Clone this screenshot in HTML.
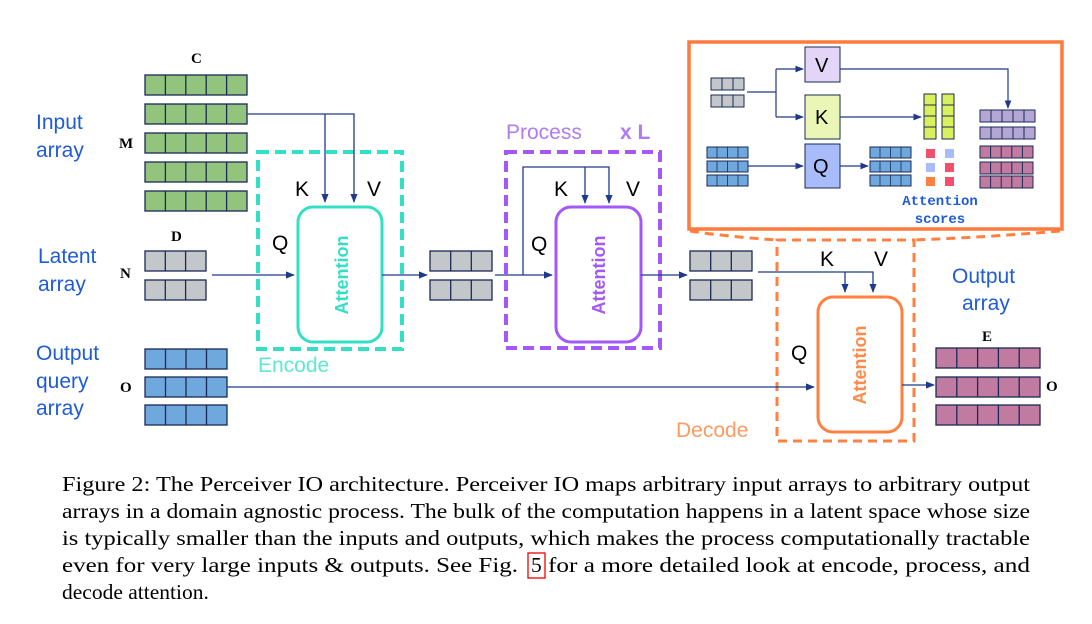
<!DOCTYPE html>
<html><head><meta charset="utf-8"><style>
html,body{margin:0;padding:0;background:#fff;}
svg{display:block}
.lb{font-family:"Liberation Sans","DejaVu Sans",sans-serif;}
.sf{font-family:"Liberation Serif",serif;}
</style></head><body>
<svg width="1092" height="624" viewBox="0 0 1092 624" xmlns="http://www.w3.org/2000/svg">
<defs>
<marker id="ah" viewBox="0 0 10 10" refX="9" refY="5" markerWidth="7" markerHeight="7" orient="auto"><path d="M0,1 L10,5 L0,9 z" fill="#1e3a8a"/></marker>
</defs>
<rect width="1092" height="624" fill="#fff"/>
<g class="lb" fill="#1f5bd6" font-size="21">
<text x="36" y="129">Input</text><text x="36" y="157">array</text>
<text x="38" y="263">Latent</text><text x="38" y="291">array</text>
<text x="36" y="360">Output</text><text x="36" y="388">query</text><text x="36" y="415">array</text>
<text x="952" y="283">Output</text><text x="962" y="310">array</text>
</g>
<g class="sf" font-weight="bold" font-size="15" fill="#000">
<text x="191" y="63">C</text><text x="119" y="148">M</text><text x="171" y="241">D</text><text x="120" y="278">N</text><text x="120" y="392">O</text><text x="982" y="341">E</text><text x="1046" y="391">O</text>
</g>
<g stroke="#1a2a55" stroke-width="1.3">
<g fill="#93c47d">
<rect x="145" y="75" width="102" height="20"/><rect x="145" y="104" width="102" height="20"/><rect x="145" y="133" width="102" height="20"/><rect x="145" y="162" width="102" height="20"/><rect x="145" y="191" width="102" height="20"/>
</g>
<path d="M165.4 75v20M185.8 75v20M206.2 75v20M226.6 75v20 M165.4 104v20M185.8 104v20M206.2 104v20M226.6 104v20 M165.4 133v20M185.8 133v20M206.2 133v20M226.6 133v20 M165.4 162v20M185.8 162v20M206.2 162v20M226.6 162v20 M165.4 191v20M185.8 191v20M206.2 191v20M226.6 191v20" fill="none"/>
<g fill="#c3c7c9">
<rect x="145" y="251" width="61" height="20"/><rect x="145" y="280" width="61" height="20"/>
<rect x="430" y="251" width="62" height="20"/><rect x="430" y="280" width="62" height="20"/>
<rect x="690" y="251" width="62" height="20"/><rect x="690" y="280" width="62" height="20"/>
</g>
<path d="M165.3 251v20M185.6 251v20M165.3 280v20M185.6 280v20 M450.7 251v20M471.3 251v20M450.7 280v20M471.3 280v20 M710.7 251v20M731.3 251v20M710.7 280v20M731.3 280v20" fill="none"/>
<g fill="#6fa8dc">
<rect x="145" y="349" width="82" height="20"/><rect x="145" y="377" width="82" height="20"/><rect x="145" y="405" width="82" height="20"/>
</g>
<path d="M165.5 349v20M186 349v20M206.5 349v20 M165.5 377v20M186 377v20M206.5 377v20 M165.5 405v20M186 405v20M206.5 405v20" fill="none"/>
<g fill="#c27ba0">
<rect x="936" y="348" width="104" height="20"/><rect x="936" y="377" width="104" height="20"/><rect x="936" y="405" width="104" height="20"/>
</g>
<path d="M956.8 348v20M977.6 348v20M998.4 348v20M1019.2 348v20 M956.8 377v20M977.6 377v20M998.4 377v20M1019.2 377v20 M956.8 405v20M977.6 405v20M998.4 405v20M1019.2 405v20" fill="none"/>
</g>
<!-- Encode -->
<rect x="258" y="152" width="144" height="197" fill="none" stroke="#33e0c6" stroke-width="4" stroke-dasharray="11,6"/>
<rect x="298" y="207" width="84" height="135" rx="15" fill="none" stroke="#33e0c6" stroke-width="3"/>
<text class="lb" x="0" y="0" transform="translate(348,275) rotate(-90)" text-anchor="middle" font-size="18" font-weight="bold" fill="#33e0c6">Attention</text>
<text class="lb" x="258" y="372" font-size="21" fill="#5ee8d0">Encode</text>
<!-- Process -->
<rect x="506" y="152" width="154" height="196" fill="none" stroke="#a259f7" stroke-width="4" stroke-dasharray="11,6"/>
<rect x="556" y="207" width="85" height="135" rx="15" fill="none" stroke="#a259f7" stroke-width="3"/>
<text class="lb" x="0" y="0" transform="translate(605,275) rotate(-90)" text-anchor="middle" font-size="18" font-weight="bold" fill="#a259f7">Attention</text>
<text class="lb" x="506" y="139" font-size="21" fill="#b07cf5">Process</text>
<text class="lb" x="620" y="139" font-size="21" font-weight="bold" fill="#b07cf5">x L</text>
<!-- Decode -->
<rect x="777" y="240" width="137" height="201" fill="none" stroke="#ff8040" stroke-width="3" stroke-dasharray="9,6"/>
<rect x="818" y="297" width="84" height="135" rx="15" fill="none" stroke="#ff8040" stroke-width="3"/>
<text class="lb" x="0" y="0" transform="translate(866,365) rotate(-90)" text-anchor="middle" font-size="18" font-weight="bold" fill="#ff8a4a">Attention</text>
<text class="lb" x="676" y="437" font-size="21" fill="#ff9a60">Decode</text>
<g class="lb" font-size="21" fill="#000">
<text x="295" y="196">K</text><text x="367" y="196">V</text><text x="272" y="250">Q</text>
<text x="554" y="196">K</text><text x="626" y="196">V</text><text x="531" y="251">Q</text>
<text x="820" y="266">K</text><text x="874" y="266">V</text><text x="791" y="360">Q</text>
</g>
<g stroke="#1e3a8a" stroke-width="1.3" fill="none">
<path d="M247 114 H354 V202" marker-end="url(#ah)"/>
<path d="M325 114 V202" marker-end="url(#ah)"/>
<path d="M212 275 H294" marker-end="url(#ah)"/>
<path d="M382 275 H427" marker-end="url(#ah)"/>
<path d="M495 275 H552" marker-end="url(#ah)"/>
<path d="M523 275 V167 H609 V203" marker-end="url(#ah)"/>
<path d="M585 167 V203" marker-end="url(#ah)"/>
<path d="M641 275 H687" marker-end="url(#ah)"/>
<path d="M758 272 H873 V292" marker-end="url(#ah)"/>
<path d="M845 272 V292" marker-end="url(#ah)"/>
<path d="M227 387 H814" marker-end="url(#ah)"/>
<path d="M902 385 H934" marker-end="url(#ah)"/>
</g>
<!-- inset -->
<path d="M690 231 Q730 237 777 240 M1060 231 Q990 237 914 240" fill="none" stroke="#ff8040" stroke-width="3" stroke-dasharray="9,6"/>
<rect x="689" y="42" width="373" height="187" fill="#fff" stroke="#ff7a3d" stroke-width="3.5"/>
<g stroke="#1a2a55" stroke-width="1">
<rect x="711" y="78" width="33" height="12" fill="#c3c7c9"/><rect x="711" y="95" width="33" height="12" fill="#c3c7c9"/>
<path d="M722 78v12M733 78v12M722 95v12M733 95v12"/>
<g fill="#6fa8dc">
<rect x="707" y="147" width="41" height="11"/><rect x="707" y="161" width="41" height="11"/><rect x="707" y="175" width="41" height="11"/>
<rect x="870" y="147" width="41" height="11"/><rect x="870" y="161" width="41" height="11"/><rect x="870" y="175" width="41" height="11"/>
</g>
<path d="M717 147v11M727.5 147v11M738 147v11 M717 161v11M727.5 161v11M738 161v11 M717 175v11M727.5 175v11M738 175v11 M880 147v11M890.5 147v11M901 147v11 M880 161v11M890.5 161v11M901 161v11 M880 175v11M890.5 175v11M901 175v11" stroke-width="0.8"/>
<g fill="#d9ef5c">
<rect x="924" y="94" width="12" height="45"/><rect x="942" y="94" width="12" height="45"/>
</g>
<path d="M924 105h12M924 116h12M924 127h12M942 105h12M942 116h12M942 127h12"/>
<rect x="980" y="110" width="55" height="12" fill="#b4a7d6"/><rect x="980" y="127" width="55" height="12" fill="#b4a7d6"/>
<path d="M991 110v12M1002 110v12M1013 110v12M1024 110v12 M991 127v12M1002 127v12M1013 127v12M1024 127v12"/>
<g fill="#c27ba0">
<rect x="980" y="146" width="53" height="12"/><rect x="980" y="162" width="53" height="12"/><rect x="980" y="176" width="53" height="12"/>
</g>
<path d="M990.6 146v12M1001.2 146v12M1011.8 146v12M1022.4 146v12 M990.6 162v12M1001.2 162v12M1011.8 162v12M1022.4 162v12 M990.6 176v12M1001.2 176v12M1011.8 176v12M1022.4 176v12"/>
<rect x="805" y="47" width="35" height="35" fill="#e2d5f8"/>
<rect x="805" y="95" width="35" height="44" fill="#e9f6b5"/>
<rect x="805" y="144" width="35" height="44" fill="#a8bcfa"/>
</g>
<g fill="none" stroke="#1e3a8a" stroke-width="1.2">
<path d="M747 92 H776 M776 69 V117"/>
<path d="M776 69 H803" marker-end="url(#ah)"/><path d="M776 117 H803" marker-end="url(#ah)"/>
<path d="M748 166 H803" marker-end="url(#ah)"/>
<path d="M840 166 H868" marker-end="url(#ah)"/>
<path d="M840 117 H921" marker-end="url(#ah)"/>
<path d="M840 69 H1008 V108" marker-end="url(#ah)"/>
</g>
<g class="lb" font-size="20" fill="#000"><text x="815" y="72">V</text><text x="815" y="124">K</text><text x="813" y="173">Q</text></g>
<g>
<rect x="926" y="149" width="9" height="9" fill="#f0506e"/><rect x="945" y="149" width="9" height="9" fill="#a8bcfa"/>
<rect x="926" y="163" width="9" height="9" fill="#a8bcfa"/><rect x="945" y="163" width="9" height="9" fill="#f0506e"/>
<rect x="926" y="177" width="9" height="9" fill="#ff8040"/><rect x="945" y="177" width="9" height="9" fill="#f0506e"/>
</g>
<g font-family="'Liberation Mono','DejaVu Sans Mono',monospace" font-weight="bold" font-size="14" fill="#1f5bd6" text-anchor="middle">
<text x="940" y="205">Attention</text><text x="940" y="223">scores</text>
</g>
<g class="sf" font-size="21.5" fill="#000">
<text x="62" y="491" textLength="968" lengthAdjust="spacingAndGlyphs">Figure 2: The Perceiver IO architecture. Perceiver IO maps arbitrary input arrays to arbitrary output</text>
<text x="62" y="518" textLength="968" lengthAdjust="spacingAndGlyphs">arrays in a domain agnostic process. The bulk of the computation happens in a latent space whose size</text>
<text x="62" y="545" textLength="968" lengthAdjust="spacingAndGlyphs">is typically smaller than the inputs and outputs, which makes the process computationally tractable</text>
<text x="62" y="572" textLength="456" lengthAdjust="spacingAndGlyphs">even for very large inputs &amp; outputs. See Fig.</text>
<text x="531" y="572">5</text>
<text x="548" y="572" textLength="482" lengthAdjust="spacingAndGlyphs">for a more detailed look at encode, process, and</text>
<text x="62" y="599">decode attention.</text>
</g>
<rect x="528" y="553" width="17" height="25" fill="none" stroke="#e00" stroke-width="1.3"/>
</svg>
</body></html>
